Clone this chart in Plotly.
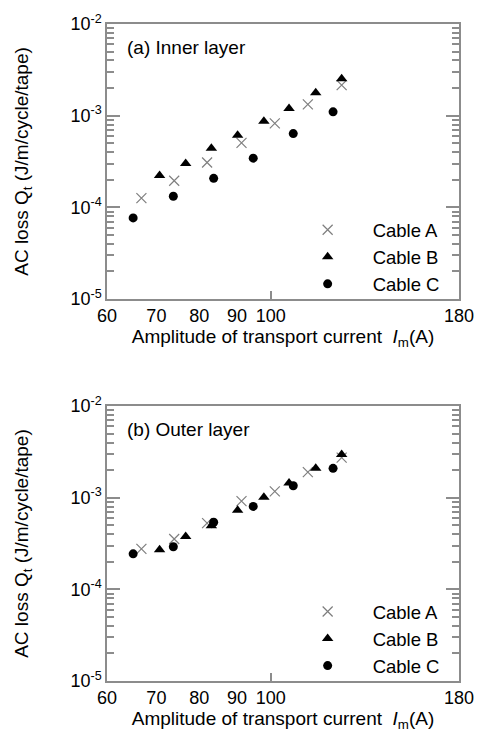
import plotly.graph_objects as go
from plotly.subplots import make_subplots

# ---- data ----
inner_A_I = [66.8, 74.0, 82.0, 91.3, 101.3, 112.3, 124.8]
inner_A_Q = [1.26e-4, 1.95e-4, 3.08e-4, 5.05e-4, 8.25e-4, 1.33e-3, 2.15e-3]
inner_B_I = [70.7, 76.7, 83.1, 90.2, 97.9, 105.9, 115.1, 124.8]
inner_B_Q = [2.23e-4, 3.01e-4, 4.41e-4, 6.11e-4, 8.68e-4, 1.20e-3, 1.78e-3, 2.52e-3]
inner_C_I = [65.1, 73.8, 83.7, 94.7, 107.3, 121.5]
inner_C_Q = [7.66e-5, 1.32e-4, 2.07e-4, 3.44e-4, 6.37e-4, 1.10e-3]

outer_A_I = [66.8, 74.0, 82.0, 91.3, 101.3, 112.3, 124.8]
outer_A_Q = [2.76e-4, 3.54e-4, 5.27e-4, 9.18e-4, 1.17e-3, 1.90e-3, 2.74e-3]
outer_B_I = [70.7, 76.7, 83.1, 90.2, 97.9, 105.9, 115.1, 124.8]
outer_B_Q = [2.71e-4, 3.78e-4, 4.93e-4, 7.28e-4, 1.01e-3, 1.45e-3, 2.09e-3, 2.96e-3]
outer_C_I = [65.1, 73.8, 83.7, 94.7, 107.3, 121.5]
outer_C_Q = [2.44e-4, 2.92e-4, 5.40e-4, 8.04e-4, 1.35e-3, 2.09e-3]

series_names = ["Cable A", "Cable B", "Cable C"]
x_tickvals = [60, 70, 80, 90, 100, 180]
x_ticktext = ["60", "70", "80", "90", "100", "180"]
y_tickvals = [1e-5, 1e-4, 1e-3, 1e-2]
y_ticktext = ["10<sup>-5</sup>", "10<sup>-4</sup>", "10<sup>-3</sup>", "10<sup>-2</sup>"]
panel_labels = ["(a) Inner layer", "(b) Outer layer"]

FONT = "Liberation Sans, Arial, sans-serif"
FS_TICK = 18
FS_TITLE = 19
FS_LEG = 18.5
AXC = "#8c8c8c"

fig = make_subplots(rows=2, cols=1, vertical_spacing=0.163)

styles = [
    dict(symbol="x-thin", size=10, color="#7f7f7f", line=dict(width=1.2, color="#7f7f7f")),
    dict(symbol="triangle-up", size=10, color="black", line=dict(width=0)),
    dict(symbol="circle", size=9, color="black", line=dict(width=0)),
]

panels = [
    [(inner_A_I, inner_A_Q), (inner_B_I, inner_B_Q), (inner_C_I, inner_C_Q)],
    [(outer_A_I, outer_A_Q), (outer_B_I, outer_B_Q), (outer_C_I, outer_C_Q)],
]

for r, panel in enumerate(panels, start=1):
    for (xs, ys), name, st in zip(panel, series_names, styles):
        fig.add_trace(go.Scatter(x=xs, y=ys, mode="markers", name=name,
                                 marker=st, showlegend=True,
                                 legend="legend" if r == 1 else "legend2"),
                      row=r, col=1)

minor_y = [k * 10.0 ** e for e in range(-5, -2) for k in range(2, 10)]

for r in (1, 2):
    fig.update_xaxes(type="log", range=[1.7781513, 2.2552725],
                     tickvals=x_tickvals, ticktext=x_ticktext,
                     ticks="", showgrid=False, zeroline=False,
                     showline=True, linecolor=AXC, linewidth=1.5, mirror=True,
                     minor=dict(tickvals=[100], ticks="inside", ticklen=8,
                                tickcolor=AXC, tickwidth=1.5, showgrid=False),
                     tickfont=dict(family=FONT, size=FS_TICK, color="black"),
                     title=dict(text="Amplitude of transport current &nbsp;<i>I</i><sub>m</sub>(A)",
                                font=dict(family=FONT, size=FS_TITLE, color="black"),
                                standoff=3),
                     row=r, col=1)
    fig.update_yaxes(type="log", range=[-5, -2],
                     tickvals=y_tickvals, ticktext=y_ticktext,
                     ticks="inside", ticklen=13, tickcolor=AXC, tickwidth=1.5,
                     showgrid=False, zeroline=False,
                     showline=True, linecolor=AXC, linewidth=1.5, mirror="ticks",
                     minor=dict(tickvals=minor_y, ticks="inside", ticklen=7,
                                tickcolor=AXC, tickwidth=1.5, showgrid=False),
                     tickfont=dict(family=FONT, size=FS_TICK, color="black"),
                     title=dict(text="AC loss Q<sub>t</sub> (J/m/cycle/tape)",
                                font=dict(family=FONT, size=FS_TITLE, color="black"),
                                standoff=37),
                     row=r, col=1)

fig.add_annotation(text=panel_labels[0], xref="x domain", yref="y domain",
                   x=0.052, y=0.915, xanchor="left", yanchor="middle", showarrow=False,
                   font=dict(family=FONT, size=FS_TITLE, color="black"))
fig.add_annotation(text=panel_labels[1], xref="x2 domain", yref="y2 domain",
                   x=0.052, y=0.915, xanchor="left", yanchor="middle", showarrow=False,
                   font=dict(family=FONT, size=FS_TITLE, color="black"))

leg = dict(font=dict(family=FONT, size=FS_LEG, color="black"), bgcolor="rgba(0,0,0,0)",
           itemwidth=80, tracegroupgap=0, xanchor="left", yanchor="top")
fig.update_layout(
    width=486, height=737,
    margin=dict(l=107, r=16, t=23, b=52),
    paper_bgcolor="white", plot_bgcolor="white",
    font=dict(family=FONT, size=FS_TICK, color="black"),
    legend=dict(**leg, x=0.499, y=0.715),
    legend2=dict(**leg, x=0.499, y=0.134),
)

# remove the browser's default 8px body margin so the figure fills the window exactly
fig.write_html("out.html", config={"displayModeBar": False},
               post_script="document.body.style.margin='0';")
